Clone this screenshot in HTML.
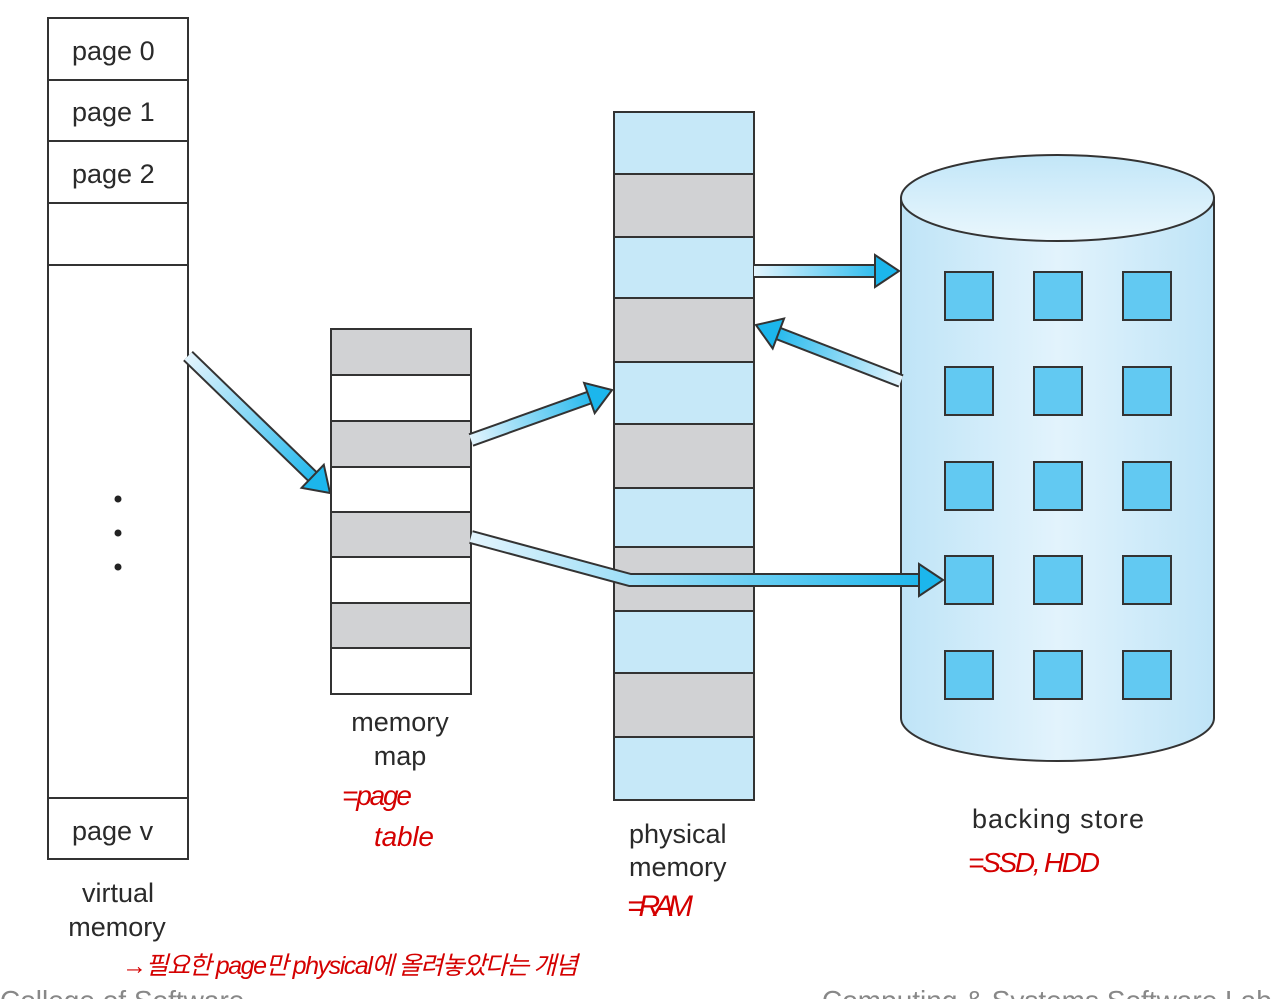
<!DOCTYPE html>
<html><head><meta charset="utf-8"><style>
html,body{margin:0;padding:0;background:#fff;width:1278px;height:999px;overflow:hidden}
svg{display:block}
.t{font-family:"Liberation Sans",sans-serif;font-size:27px;fill:#2a2a2a}
.r{font-family:"Liberation Sans","Noto Sans CJK KR",sans-serif;fill:#d40000;font-style:italic}
</style></head><body>
<svg width="1278" height="999" viewBox="0 0 1278 999" xmlns="http://www.w3.org/2000/svg">
<defs>
<linearGradient id="cyl" x1="0" x2="1" y1="0" y2="0">
<stop offset="0" stop-color="#bfe4f7"/><stop offset="0.5" stop-color="#e2f3fc"/><stop offset="1" stop-color="#bfe4f7"/></linearGradient>
<linearGradient id="top" x1="0" x2="0" y1="0" y2="1">
<stop offset="0" stop-color="#c2e6f8"/><stop offset="1" stop-color="#eaf7fd"/></linearGradient>
<linearGradient id="g1" gradientUnits="userSpaceOnUse" x1="188" y1="356" x2="320" y2="483"><stop offset="0" stop-color="#e3f4fd"/><stop offset="1" stop-color="#1cb6ec"/></linearGradient>
<linearGradient id="g2" gradientUnits="userSpaceOnUse" x1="471" y1="440" x2="600" y2="395"><stop offset="0" stop-color="#e3f4fd"/><stop offset="1" stop-color="#1cb6ec"/></linearGradient>
<linearGradient id="g3" gradientUnits="userSpaceOnUse" x1="754" y1="0" x2="890" y2="0"><stop offset="0" stop-color="#e3f4fd"/><stop offset="1" stop-color="#1cb6ec"/></linearGradient>
<linearGradient id="g4" gradientUnits="userSpaceOnUse" x1="901" y1="380" x2="770" y2="330"><stop offset="0" stop-color="#e3f4fd"/><stop offset="1" stop-color="#1cb6ec"/></linearGradient>
<linearGradient id="g5" gradientUnits="userSpaceOnUse" x1="471" y1="0" x2="930" y2="0"><stop offset="0" stop-color="#e3f4fd"/><stop offset="1" stop-color="#1cb6ec"/></linearGradient>
</defs>

<!-- virtual memory -->
<g stroke="#333" stroke-width="2" fill="#fff">
<rect x="48" y="18" width="140" height="841"/>
<line x1="48" y1="80" x2="188" y2="80"/><line x1="48" y1="141" x2="188" y2="141"/>
<line x1="48" y1="203" x2="188" y2="203"/><line x1="48" y1="265" x2="188" y2="265"/>
<line x1="48" y1="798" x2="188" y2="798"/>
</g>
<text class="t" x="72" y="60">page 0</text>
<text class="t" x="72" y="121">page 1</text>
<text class="t" x="72" y="183">page 2</text>
<text class="t" x="72" y="840">page v</text>
<circle cx="118" cy="499" r="3.5" fill="#222"/><circle cx="118" cy="533" r="3.5" fill="#222"/><circle cx="118" cy="567" r="3.5" fill="#222"/>
<text class="t" x="118" y="902" text-anchor="middle">virtual</text>
<text class="t" x="117" y="936" text-anchor="middle">memory</text>

<!-- memory map -->
<g stroke="#333" stroke-width="2">
<rect x="331" y="329" width="140" height="46" fill="#d1d2d4"/>
<rect x="331" y="375" width="140" height="46" fill="#fff"/>
<rect x="331" y="421" width="140" height="46" fill="#d1d2d4"/>
<rect x="331" y="467" width="140" height="45" fill="#fff"/>
<rect x="331" y="512" width="140" height="45" fill="#d1d2d4"/>
<rect x="331" y="557" width="140" height="46" fill="#fff"/>
<rect x="331" y="603" width="140" height="45" fill="#d1d2d4"/>
<rect x="331" y="648" width="140" height="46" fill="#fff"/>
</g>
<text class="t" x="400" y="731" text-anchor="middle">memory</text>
<text class="t" x="400" y="765" text-anchor="middle">map</text>

<!-- physical memory -->
<g stroke="#333" stroke-width="2">
<rect x="614" y="112" width="140" height="62" fill="#c6e8f8"/>
<rect x="614" y="174" width="140" height="63" fill="#d1d2d4"/>
<rect x="614" y="237" width="140" height="61" fill="#c6e8f8"/>
<rect x="614" y="298" width="140" height="64" fill="#d1d2d4"/>
<rect x="614" y="362" width="140" height="62" fill="#c6e8f8"/>
<rect x="614" y="424" width="140" height="64" fill="#d1d2d4"/>
<rect x="614" y="488" width="140" height="59" fill="#c6e8f8"/>
<rect x="614" y="547" width="140" height="64" fill="#d1d2d4"/>
<rect x="614" y="611" width="140" height="62" fill="#c6e8f8"/>
<rect x="614" y="673" width="140" height="64" fill="#d1d2d4"/>
<rect x="614" y="737" width="140" height="63" fill="#c6e8f8"/>
</g>
<text class="t" x="629" y="843">physical</text>
<text class="t" x="629" y="876">memory</text>

<!-- backing store -->
<path d="M901,198 L901,718 A156.5,43 0 0 0 1214,718 L1214,198 Z" fill="url(#cyl)" stroke="#333" stroke-width="2"/>
<ellipse cx="1057.5" cy="198" rx="156.5" ry="43" fill="url(#top)" stroke="#333" stroke-width="2"/>
<g fill="#62c9f2" stroke="#333" stroke-width="2">
<rect x="945" y="272" width="48" height="48"/><rect x="1034" y="272" width="48" height="48"/><rect x="1123" y="272" width="48" height="48"/>
<rect x="945" y="367" width="48" height="48"/><rect x="1034" y="367" width="48" height="48"/><rect x="1123" y="367" width="48" height="48"/>
<rect x="945" y="462" width="48" height="48"/><rect x="1034" y="462" width="48" height="48"/><rect x="1123" y="462" width="48" height="48"/>
<rect x="945" y="556" width="48" height="48"/><rect x="1034" y="556" width="48" height="48"/><rect x="1123" y="556" width="48" height="48"/>
<rect x="945" y="651" width="48" height="48"/><rect x="1034" y="651" width="48" height="48"/><rect x="1123" y="651" width="48" height="48"/>
</g>
<text class="t" x="972" y="828" textLength="172">backing store</text>

<!-- arrows -->
<g fill="none" stroke-linejoin="miter">
<path d="M188,356 L314,478" stroke="#333" stroke-width="14"/>
<path d="M188,356 L314,478" stroke="url(#g1)" stroke-width="10"/>
<path d="M471,440 L591,397" stroke="#333" stroke-width="14"/>
<path d="M471,440 L591,397" stroke="url(#g2)" stroke-width="10"/>
<path d="M754,271 L877,271" stroke="#333" stroke-width="14"/>
<path d="M754,271 L877,271" stroke="url(#g3)" stroke-width="10"/>
<path d="M901,381 L777,333" stroke="#333" stroke-width="14"/>
<path d="M901,381 L777,333" stroke="url(#g4)" stroke-width="10"/>
<path d="M471,537 L630,580 L921,580" stroke="#333" stroke-width="14"/>
<path d="M471,537 L630,580 L921,580" stroke="url(#g5)" stroke-width="10"/>
</g>
<g fill="#1cb6ec" stroke="#333" stroke-width="2" stroke-linejoin="miter">
<polygon points="330,493 301.6,487.8 323.8,464.8"/>
<polygon points="612,390 594.7,413.1 584.1,382.9"/>
<polygon points="899,271 875,255 875,287"/>
<polygon points="756,325 784.1,318.5 772.7,348.5"/>
<polygon points="943,580 919,564 919,596"/>
</g>

<!-- handwriting -->
<text class="r" x="342" y="805" font-size="28" textLength="70">=page</text>
<text class="r" x="374" y="846" font-size="28" textLength="60">table</text>
<text class="r" x="627" y="916" font-size="30" textLength="66">=RAM</text>
<text class="r" x="968" y="872" font-size="28" textLength="132">=SSD, HDD</text>
<text class="r" x="122" y="974" font-size="25" textLength="456">→필요한 page만 physical에 올려놓았다는 개념</text>
<text x="0" y="1010" font-family="Liberation Sans" font-size="28" fill="#888">College of Software</text>
<text x="822" y="1010" font-family="Liberation Sans" font-size="28" fill="#888">Computing &amp; Systems Software Lab</text>
</svg>
</body></html>
